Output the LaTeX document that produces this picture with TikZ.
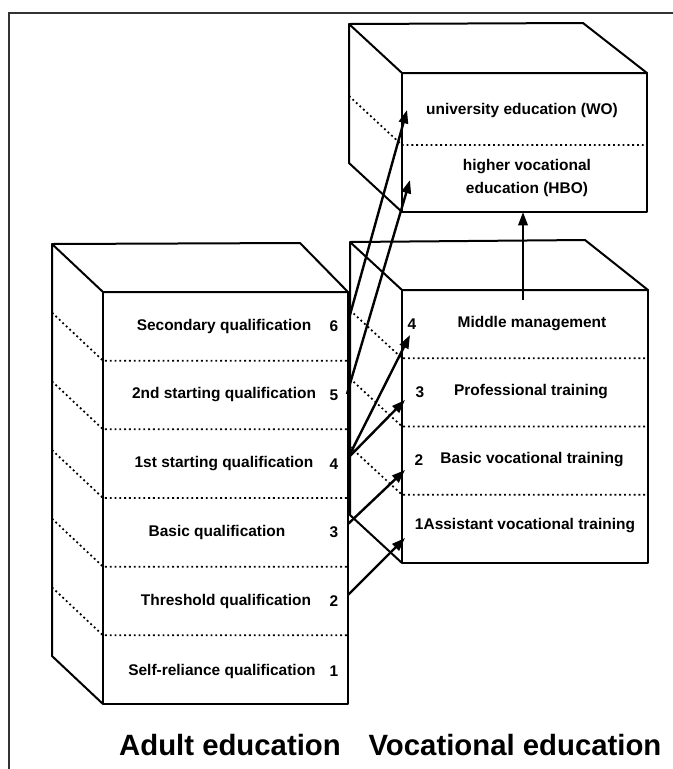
\documentclass[tikz,border=0pt]{standalone}
\usepackage{fontspec}
\setmainfont{Liberation Sans}
\usetikzlibrary{arrows.meta}
\tikzset{
  edge/.style={line width=1.5pt, line join=round},
  rowline/.style={line width=1.3pt, dash pattern=on 1.4pt off 2.2pt},
  flow/.style={line width=1.8pt, -{Triangle[length=10pt,width=7pt]}},
  lbl/.style={font=\fontsize{11.6}{17}\selectfont\bfseries, inner sep=0pt},
  head/.style={font=\fontsize{22}{26}\selectfont\bfseries, inner sep=0pt},
}
\begin{document}
\begin{tikzpicture}[x=0.75pt,y=-0.75pt]
\useasboundingbox (0,0) rectangle (673,769);
\fill[white] (0,0) rectangle (673,769);
% outer frame (left and top sides)
\draw[line width=1pt, black!80] (9,769) -- (9,13) -- (673,13);

% ---------- Adult education block ----------
\draw[edge] (52,244) -- (300,243) -- (348,292) -- (103,292) -- cycle;
\draw[edge] (52,244) -- (52,656) -- (103,704);
\draw[edge] (103,292) rectangle (348,704);
\foreach \k in {1,...,5}{
  \pgfmathsetmacro\yy{292+68.67*\k}
  \draw[rowline] (52,{\yy-48}) -- (103,\yy) -- (348,\yy);
}
\node[lbl] (q6) at (224,326) {Secondary qualification};
\node[lbl] (q5) at (224,395) {2nd starting qualification};
\node[lbl] (q4) at (224,464) {1st starting qualification};
\node[lbl] (q3) at (217,532) {Basic qualification};
\node[lbl] (q2) at (226,601) {Threshold qualification};
\node[lbl] (q1) at (222,671) {Self-reliance qualification};
\node[lbl] (n6) at (334,326) {6};
\node[lbl] (n5) at (334,395) {5};
\node[lbl] (n4) at (334,464) {4};
\node[lbl] (n3) at (334,532) {3};
\node[lbl] (n2) at (334,601) {2};
\node[lbl] (n1) at (334,671) {1};

% ---------- Vocational education block ----------
\draw[edge] (350,242) -- (585,240) -- (648,290) -- (402,290) -- cycle;
\draw[edge] (350,242) -- (350,515) -- (402,563);
\draw[edge] (402,290) rectangle (648,563);
\foreach \k in {1,2,3}{
  \pgfmathsetmacro\yy{290+68.25*\k}
  \draw[rowline] (350,{\yy-48}) -- (402,\yy) -- (648,\yy);
}
\node[lbl] (m4) at (412,324) {4};
\node[lbl] (v4) at (532,324) {Middle management};
\node[lbl] (m3) at (420,392) {3};
\node[lbl] (v3) at (531,392) {Professional training};
\node[lbl] (m2) at (419,460) {2};
\node[lbl] (v2) at (532,460) {Basic vocational training};
\node[lbl] (v1) at (525,526) {1Assistant vocational training};

% ---------- Higher education block ----------
\draw[edge] (349,24) -- (583,23) -- (647,73) -- (402,73) -- cycle;
\draw[edge] (349,24) -- (349,163) -- (402,212);
\draw[edge] (402,73) rectangle (647,212);
\draw[rowline] (349,96) -- (402,145) -- (647,145);
\node[lbl] (wo) at (522,110) {university education (WO)};
\node[lbl, align=center] (hbo) at (527,178) {higher vocational\\education (HBO)};

% ---------- headings ----------
\node[head] (ae) at (230,745) {Adult education};
\node[head] (ve) at (515,745) {Vocational education};

% ---------- transitions ----------
\coordinate (s6) at (348,322);  \coordinate (t6) at (407,110);
\coordinate (s5) at (347,394);  \coordinate (t5) at (410,180);
\coordinate (s4) at (348,458);  \coordinate (t4a) at (410,335);
\coordinate (t4b) at (405,400);
\coordinate (s3) at (348,524);  \coordinate (t3) at (405,470);
\coordinate (s2) at (348,595);  \coordinate (t2) at (405,538);
\coordinate (u0) at (523,300);  \coordinate (u1) at (523,212);
\draw[flow] (s6) -- (t6);
\draw[flow] (s5) -- (t5);
\draw[flow] (s4) -- (t4a);
\draw[flow] (s4) -- (t4b);
\draw[flow] (s3) -- (t3);
\draw[flow] (s2) -- (t2);
\draw[flow] (u0) -- (u1);
\end{tikzpicture}
\end{document}
